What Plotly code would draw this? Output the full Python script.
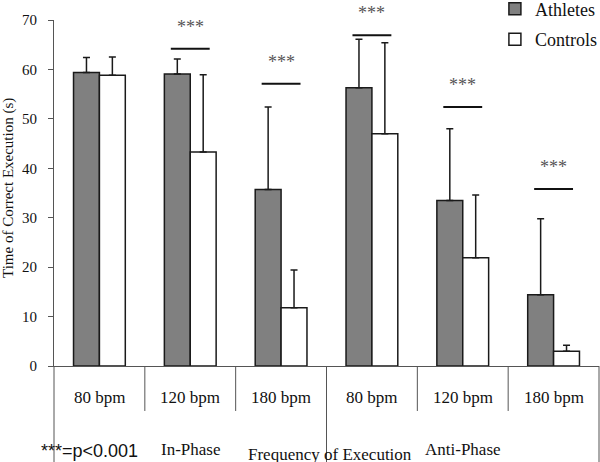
import plotly.graph_objects as go

# ---- data ----
freq_labels = ["80 bpm", "120 bpm", "180 bpm", "80 bpm", "120 bpm", "180 bpm"]
phase_labels = ["In-Phase", "Anti-Phase"]
athletes = [59.4, 59.1, 35.7, 56.3, 33.5, 14.4]
athletes_sd = [3.0, 3.0, 16.7, 9.8, 14.5, 15.4]
controls = [58.8, 43.3, 11.8, 47.0, 21.9, 3.0]
controls_sd = [3.7, 15.6, 7.6, 18.4, 12.7, 1.2]
sig_line_y = [None, 64.2, 57.1, 66.9, 52.4, 35.8]
y_ticks = [0, 10, 20, 30, 40, 50, 60, 70]

xpos = list(range(len(freq_labels)))
SERIF = "Liberation Serif, Times New Roman, serif"
SANS = "Liberation Sans, Arial, sans-serif"

fig = go.Figure()
fig.add_trace(go.Bar(
    x=xpos, y=athletes, name="Athletes", legendgroup="a",
    marker=dict(color="#808080", line=dict(color="#1a1a1a", width=1.5)),
    error_y=dict(type="data", array=athletes_sd, arrayminus=[0] * 6,
                 color="#1a1a1a", thickness=1.5, width=3.5),
))
fig.add_trace(go.Bar(
    x=xpos, y=controls, name="Controls", legendgroup="c",
    marker=dict(color="#ffffff", line=dict(color="#1a1a1a", width=1.5)),
    error_y=dict(type="data", array=controls_sd, arrayminus=[0] * 6,
                 color="#1a1a1a", thickness=1.5, width=3.5),
))

shapes = []
annotations = []
half = 0.214
for i, ly in enumerate(sig_line_y):
    if ly is None:
        continue
    shapes.append(dict(type="line", xref="x", yref="y", x0=i - half, x1=i + half,
                       y0=ly, y1=ly, line=dict(color="#111111", width=2)))
    annotations.append(dict(xref="x", yref="y", x=i, y=ly + 2.0, text="***",
                            showarrow=False, yanchor="bottom",
                            font=dict(family=SERIF, size=18, color="#555555")))

# category dividers below the axis
n = len(freq_labels)
for b in range(n + 1):
    xp = b / n
    long_line = b in (0, n // 2, n)
    shapes.append(dict(type="line", xref="paper", yref="paper", x0=xp, x1=xp,
                       y0=0, y1=(-0.30 if long_line else -0.130),
                       line=dict(color="#555555", width=1)))

# frequency labels
for i, lab in enumerate(freq_labels):
    annotations.append(dict(xref="x", yref="paper", x=i, y=-0.090, text=lab,
                            showarrow=False, xanchor="center", yanchor="middle",
                            font=dict(family=SERIF, size=17, color="#111111")))
# phase labels
for k, lab in enumerate(phase_labels):
    annotations.append(dict(xref="x", yref="paper", x=1 + 3 * k, y=-0.240, text=lab,
                            showarrow=False, xanchor="center", yanchor="middle",
                            font=dict(family=SERIF, size=17, color="#111111")))
annotations.append(dict(xref="x", yref="paper", x=2.54, y=-0.256,
                        text="Frequency of Execution", showarrow=False,
                        xanchor="center", yanchor="middle",
                        font=dict(family=SERIF, size=17, color="#111111")))
annotations.append(dict(xref="paper", yref="paper", x=0.066, y=-0.245,
                        text="***=p<0.001", showarrow=False,
                        xanchor="center", yanchor="middle",
                        font=dict(family=SANS, size=18, color="#111111")))
annotations.append(dict(xref="paper", yref="paper", x=-0.0835, y=0.516,
                        text="Time of Correct Execution (s)", textangle=-90,
                        showarrow=False, xanchor="center", yanchor="middle",
                        font=dict(family=SERIF, size=15, color="#111111")))

fig.update_layout(
    width=600, height=462,
    margin=dict(l=54, r=1, t=20, b=96, pad=0, autoexpand=False),
    plot_bgcolor="white", paper_bgcolor="white",
    barmode="group", bargap=0.43, bargroupgap=0,
    showlegend=True,
    legend=dict(x=0.809, y=1.085, xanchor="left", yanchor="top",
                bgcolor="rgba(0,0,0,0)", tracegroupgap=4,
                font=dict(family=SERIF, size=18, color="#111111")),
    xaxis=dict(range=[-0.5, 5.5], showticklabels=False, showgrid=False,
               zeroline=False, showline=True, linecolor="#555555", linewidth=1,
               ticks=""),
    yaxis=dict(range=[0, 70], tickvals=y_ticks, showgrid=False, zeroline=False,
               showline=True, linecolor="#555555", linewidth=1,
               ticks="outside", ticklen=5, tickcolor="#555555",
               ticklabelstandoff=8,
               tickfont=dict(family=SERIF, size=15, color="#111111")),
    shapes=shapes, annotations=annotations,
)

fig.write_html("out.html", config={"displayModeBar": False},
               post_script="document.body.style.margin='0px';document.body.style.padding='0px';")
